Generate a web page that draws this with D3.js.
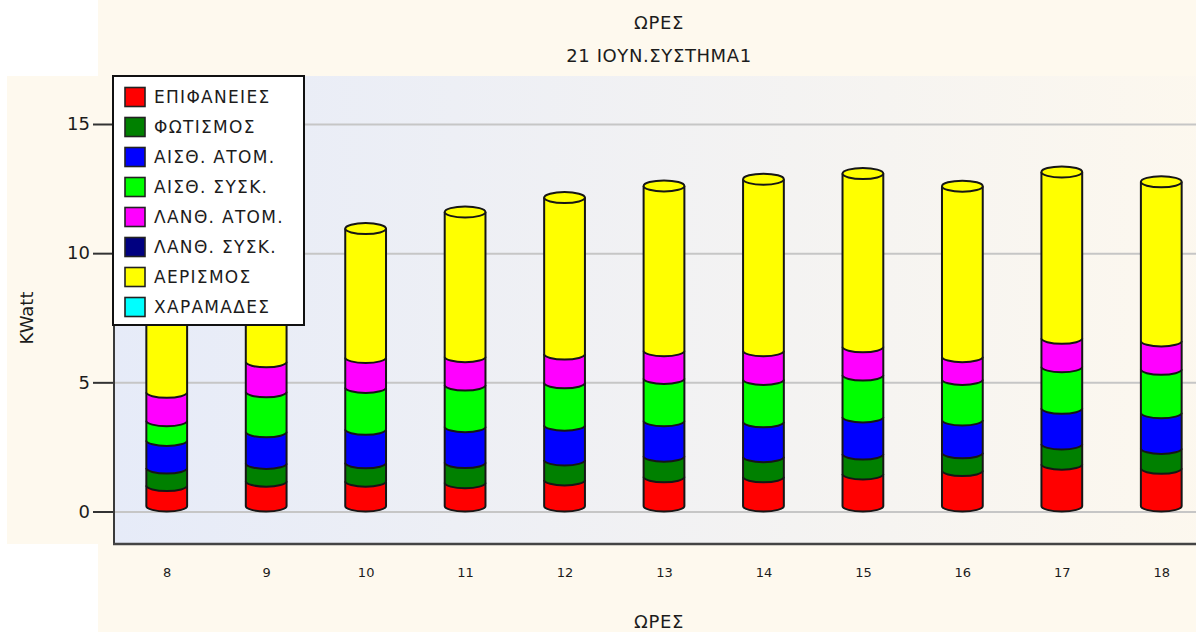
<!DOCTYPE html>
<html>
<head>
<meta charset="utf-8">
<script src="https://cdn.jsdelivr.net/npm/d3@7"></script>
<style>
  html, body { margin: 0; padding: 0; background: #ffffff; }
  svg { display: block; }
  text { font-family: "DejaVu Sans", Verdana, sans-serif; fill: #1c1c1c; }
</style>
</head>
<body>
<svg id="chart" width="1196" height="632"></svg>
<script>
// Hours of the day (x categories)
const hours = [8, 9, 10, 11, 12, 13, 14, 15, 16, 17, 18];

// Load components in kW, one array per series (stacked bottom to top)
const epifaneies = [0.79, 0.96, 0.96, 0.90, 1.01, 1.13, 1.13, 1.24, 1.37, 1.62, 1.46];
const fotismos   = [0.68, 0.69, 0.71, 0.78, 0.77, 0.80, 0.78, 0.77, 0.69, 0.78, 0.77];
const aisthAtom  = [1.07, 1.22, 1.30, 1.39, 1.35, 1.37, 1.35, 1.44, 1.27, 1.38, 1.38];
const aisthSysk  = [0.76, 1.55, 1.62, 1.61, 1.64, 1.64, 1.64, 1.62, 1.57, 1.61, 1.68];
const lanthAtom  = [1.10, 1.16, 1.16, 1.10, 1.11, 1.07, 1.11, 1.09, 0.88, 1.10, 1.10];
const lanthSysk  = [0, 0, 0, 0, 0, 0, 0, 0, 0, 0, 0];
const aerismos   = [3.80, 4.40, 4.99, 5.60, 6.06, 6.38, 6.64, 6.71, 6.60, 6.44, 6.16];
const charamades = [0, 0, 0, 0, 0, 0, 0, 0, 0, 0, 0];

const seriesNames = ["ΕΠΙΦΑΝΕΙΕΣ", "ΦΩΤΙΣΜΟΣ", "ΑΙΣΘ. ΑΤΟΜ.", "ΑΙΣΘ. ΣΥΣΚ.",
                     "ΛΑΝΘ. ΑΤΟΜ.", "ΛΑΝΘ. ΣΥΣΚ.", "ΑΕΡΙΣΜΟΣ", "ΧΑΡΑΜΑΔΕΣ"];
const seriesValues = [epifaneies, fotismos, aisthAtom, aisthSysk,
                      lanthAtom, lanthSysk, aerismos, charamades];
const seriesColors = ["#ff0000", "#008000", "#0000ff", "#00ff00",
                      "#ff00ff", "#000080", "#ffff00", "#00ffff"];

const yTicks = [0, 5, 10, 15];
const titleLines = ["ΩΡΕΣ", "21 ΙΟΥΝ.ΣΥΣΤΗΜΑ1"];
const xTitle = "ΩΡΕΣ";
const yTitle = "KWatt";

// ---- layout ----
const W = 1196, H = 632;
const plot = { left: 114, top: 76, right: 1196, bottom: 544 };
const cream = "#fef9ee";

const svg = d3.select("#chart");

// panels
svg.append("rect").attr("x", 98).attr("y", 0).attr("width", W - 98).attr("height", plot.top).attr("fill", cream);
svg.append("rect").attr("x", 7).attr("y", plot.top).attr("width", plot.left - 7).attr("height", plot.bottom - plot.top).attr("fill", cream);
svg.append("rect").attr("x", 98).attr("y", plot.bottom).attr("width", W - 98).attr("height", H - plot.bottom).attr("fill", cream);

// plot background gradient
const defs = svg.append("defs");
const grad = defs.append("linearGradient").attr("id", "wall")
  .attr("gradientUnits", "userSpaceOnUse")
  .attr("x1", plot.left).attr("y1", 0).attr("x2", 1225).attr("y2", 0);
grad.append("stop").attr("offset", "0%").attr("stop-color", "#e6ebf8");
grad.append("stop").attr("offset", "100%").attr("stop-color", "#fdf8ee");
svg.append("rect").attr("x", plot.left).attr("y", plot.top)
  .attr("width", plot.right - plot.left).attr("height", plot.bottom - plot.top)
  .attr("fill", "url(#wall)");

// ---- scales ----
const y = d3.scaleLinear().domain([0, 15]).range([511.5, 124]);
const x = d3.scalePoint().domain(hours).range([117, 1211]).padding(0.5);
const step = x.step();
const barW = step * 0.41;
const rx = barW / 2, ry = 5.5;
const lift = 5.5; // cylinders sit slightly in front of the back wall

// gridlines
svg.append("g")
  .attr("transform", `translate(${plot.left},0)`)
  .call(d3.axisLeft(y).tickValues(yTicks).tickSize(-(plot.right - plot.left)).tickFormat(""))
  .call(g => g.select(".domain").remove())
  .call(g => g.selectAll("line").attr("stroke", "#c6c6c6").attr("stroke-width", 2));

// y axis ticks + labels
svg.append("g")
  .attr("transform", `translate(${plot.left},0)`)
  .call(d3.axisLeft(y).tickValues(yTicks).tickSize(21).tickPadding(3))
  .call(g => g.select(".domain").remove())
  .call(g => g.selectAll("line").attr("stroke", "#333").attr("stroke-width", 2))
  .call(g => g.selectAll("text").attr("font-size", 18).attr("fill", "#1c1c1c")
    .attr("font-family", "DejaVu Sans, sans-serif"));

// x axis labels
svg.append("g")
  .attr("transform", `translate(0,${plot.bottom})`)
  .call(d3.axisBottom(x).tickSize(0).tickPadding(24))
  .call(g => g.select(".domain").remove())
  .call(g => g.selectAll("text").attr("font-size", 13).attr("fill", "#1c1c1c")
    .attr("font-family", "DejaVu Sans Condensed, DejaVu Sans, sans-serif"));

// frame: left and bottom walls
svg.append("line").attr("x1", plot.left).attr("x2", plot.left)
  .attr("y1", plot.top).attr("y2", plot.bottom).attr("stroke", "#3a3a3a").attr("stroke-width", 2);
svg.append("line").attr("x1", plot.left - 1).attr("x2", plot.right)
  .attr("y1", plot.bottom).attr("y2", plot.bottom).attr("stroke", "#444").attr("stroke-width", 2.5);

// ---- stacked cylinders ----
const rows = hours.map((h, i) => {
  const r = { hour: h };
  seriesNames.forEach((n, k) => { r[n] = seriesValues[k][i]; });
  return r;
});
const stacked = d3.stack().keys(seriesNames)(rows);

const bars = svg.append("g");
hours.forEach((h, i) => {
  const cx = x(h), xl = cx - rx, xr = cx + rx;
  let topVal = 0, topColor = null;
  stacked.forEach((layer, k) => {
    const d = layer[i];
    if (d[1] - d[0] <= 0) return;
    const yTop = y(d[1]) - lift, yBot = y(d[0]) - lift;
    const body = `M${xl},${yTop} L${xl},${yBot} A${rx},${ry} 0 0 0 ${xr},${yBot} L${xr},${yTop} Z`;
    const edge = `M${xl},${yTop} L${xl},${yBot} A${rx},${ry} 0 0 0 ${xr},${yBot} L${xr},${yTop}`;
    bars.append("path").attr("d", body).attr("fill", seriesColors[k]);
    bars.append("path").attr("d", edge).attr("fill", "none")
      .attr("stroke", "#161616").attr("stroke-width", 2).attr("stroke-linejoin", "round");
    topVal = d[1]; topColor = seriesColors[k];
  });
  if (topColor) {
    bars.append("ellipse").attr("cx", cx).attr("cy", y(topVal) - lift)
      .attr("rx", rx).attr("ry", ry).attr("fill", topColor)
      .attr("stroke", "#161616").attr("stroke-width", 2);
  }
});

// ---- titles ----
svg.append("text").attr("x", 659).attr("y", 22).attr("text-anchor", "middle")
  .attr("dominant-baseline", "central").attr("font-size", 18).attr("letter-spacing", 0.6)
  .text(titleLines[0]);
svg.append("text").attr("x", 659).attr("y", 55).attr("text-anchor", "middle")
  .attr("dominant-baseline", "central").attr("font-size", 18).attr("letter-spacing", 0.6)
  .text(titleLines[1]);
svg.append("text").attr("x", 659).attr("y", 621).attr("text-anchor", "middle")
  .attr("dominant-baseline", "central").attr("font-size", 18).attr("letter-spacing", 0.6)
  .text(xTitle);
svg.append("text").attr("transform", "translate(26,318) rotate(-90)")
  .attr("text-anchor", "middle").attr("dominant-baseline", "central")
  .attr("font-size", 18).text(yTitle);

// ---- legend ----
const legend = svg.append("g");
legend.append("rect").attr("x", 113).attr("y", 76).attr("width", 191).attr("height", 249)
  .attr("fill", "#ffffff").attr("stroke", "#111").attr("stroke-width", 2);
seriesNames.forEach((n, k) => {
  const cy = 97 + k * 30;
  legend.append("rect").attr("x", 125).attr("y", cy - 9.5).attr("width", 20).attr("height", 19)
    .attr("fill", seriesColors[k]).attr("stroke", "#222").attr("stroke-width", 1.6);
  legend.append("text").attr("x", 154).attr("y", cy).attr("dominant-baseline", "central")
    .attr("font-size", 17).attr("letter-spacing", 1.3).text(n);
});
</script>
</body>
</html>
